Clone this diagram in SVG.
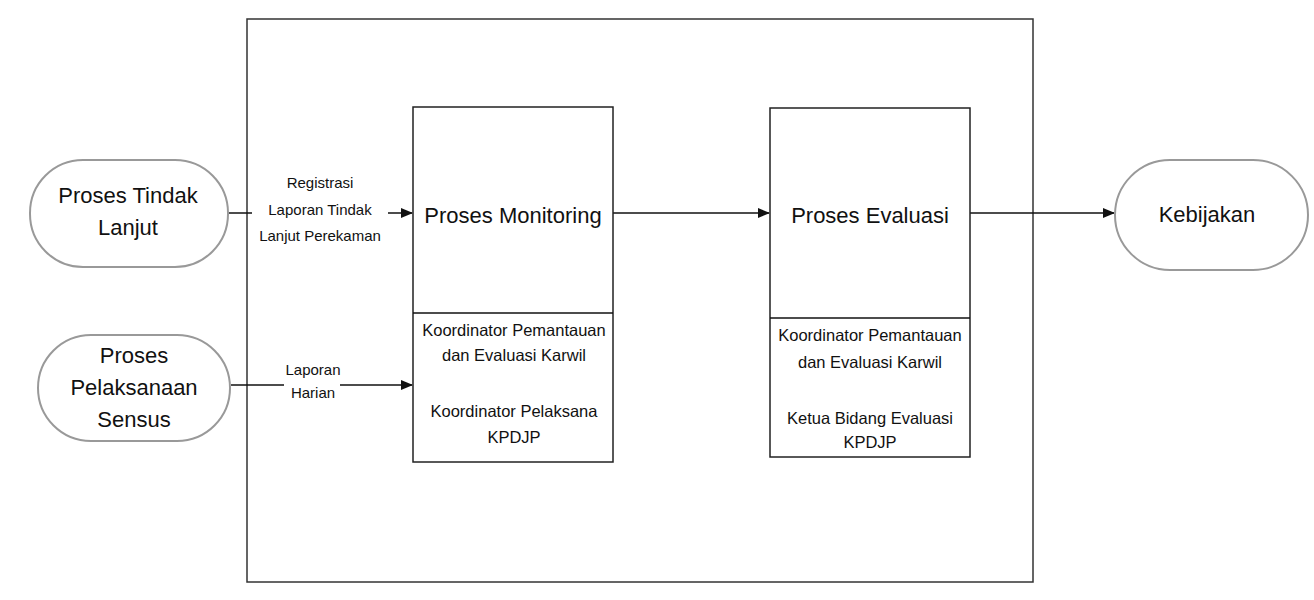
<svg xmlns="http://www.w3.org/2000/svg" width="1314" height="600" viewBox="0 0 1314 600">
<style>
.t{font-family:"Liberation Sans",Arial,sans-serif;fill:#111;text-anchor:middle}
.big{font-size:22px}
.sm{font-size:16.5px}
.lbl{font-size:15px}
.box{fill:#fff;stroke:#222;stroke-width:1.5}
.oval{fill:#fff;stroke:#999;stroke-width:2}
.ln{stroke:#111;stroke-width:1.5;fill:none}
</style>
<defs>
<marker id="ah" markerWidth="12" markerHeight="10" refX="11" refY="5" orient="auto" markerUnits="userSpaceOnUse">
<path d="M0,0 L12,5 L0,10 Z" fill="#111"/>
</marker>
</defs>
<rect width="1314" height="600" fill="#fff"/>
<g id="frame"><rect x="247" y="19" width="786" height="563" fill="none" stroke="#333" stroke-width="1.5"/></g>
<g id="connectors">
<line class="ln" x1="229" y1="213" x2="412" y2="213" marker-end="url(#ah)"/>
<line class="ln" x1="231" y1="385" x2="412" y2="385" marker-end="url(#ah)"/>
<line class="ln" x1="613" y1="213" x2="769" y2="213" marker-end="url(#ah)"/>
<line class="ln" x1="970" y1="213" x2="1114" y2="213" marker-end="url(#ah)"/>
<rect x="252" y="172" width="136" height="72" fill="#fff"/>
<text class="t lbl" x="320" y="188">Registrasi</text>
<text class="t lbl" x="320" y="215">Laporan Tindak</text>
<text class="t lbl" x="320" y="241">Lanjut Perekaman</text>
<rect x="284" y="360" width="56" height="42" fill="#fff"/>
<text class="t lbl" x="313" y="375">Laporan</text>
<text class="t lbl" x="313" y="398">Harian</text>
</g>
<g id="n-tindak">
<rect class="oval" x="30" y="160" width="198" height="107" rx="53" ry="53"/>
<text class="t big" x="128" y="203">Proses Tindak</text>
<text class="t big" x="128" y="235">Lanjut</text>
</g>
<g id="n-sensus">
<rect class="oval" x="38" y="335" width="192" height="106" rx="53" ry="53"/>
<text class="t big" x="134" y="363">Proses</text>
<text class="t big" x="134" y="395">Pelaksanaan</text>
<text class="t big" x="134" y="427">Sensus</text>
</g>
<g id="n-kebijakan">
<rect class="oval" x="1115" y="160" width="193" height="110" rx="55" ry="55"/>
<text class="t big" x="1207" y="222">Kebijakan</text>
</g>
<g id="n-monitoring">
<rect class="box" x="413" y="107" width="200" height="355"/>
<line class="ln" x1="413" y1="313" x2="613" y2="313"/>
<text class="t big" x="513" y="223">Proses Monitoring</text>
<text class="t sm" x="514" y="336">Koordinator Pemantauan</text>
<text class="t sm" x="514" y="361">dan Evaluasi Karwil</text>
<text class="t sm" x="514" y="417">Koordinator Pelaksana</text>
<text class="t sm" x="514" y="443">KPDJP</text>
</g>
<g id="n-evaluasi">
<rect class="box" x="770" y="108" width="200" height="349"/>
<line class="ln" x1="770" y1="318" x2="970" y2="318"/>
<text class="t big" x="870" y="223">Proses Evaluasi</text>
<text class="t sm" x="870" y="341">Koordinator Pemantauan</text>
<text class="t sm" x="870" y="368">dan Evaluasi Karwil</text>
<text class="t sm" x="870" y="424">Ketua Bidang Evaluasi</text>
<text class="t sm" x="870" y="448">KPDJP</text>
</g>
</svg>
